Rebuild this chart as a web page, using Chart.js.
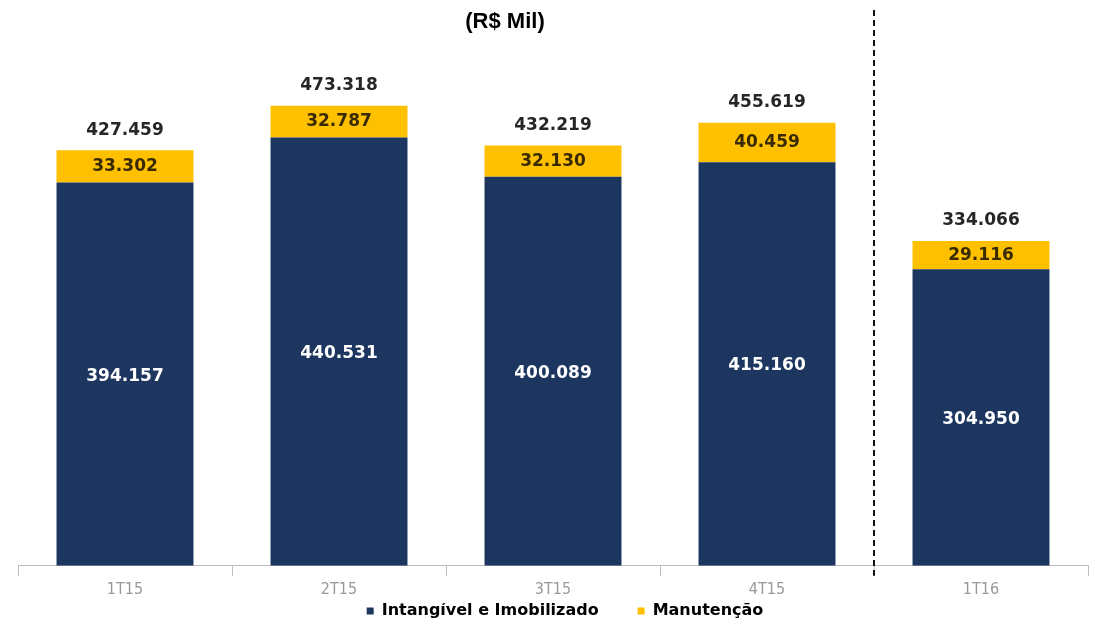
<!DOCTYPE html>
<html>
<head>
<meta charset="utf-8">
<script src="https://cdn.jsdelivr.net/npm/chart.js@4"></script>
<style>
html,body{margin:0;padding:0;background:#fff;}
#wrap{width:1095px;height:625px;position:relative;}
</style>
</head>
<body>
<div id="wrap"><canvas id="c" width="1095" height="625"></canvas></div>
<script>
const categories = ['1T15', '2T15', '3T15', '4T15', '1T16'];
const intangivel = [394.157, 440.531, 400.089, 415.160, 304.950];
const manutencao = [33.302, 32.787, 32.130, 40.459, 29.116];
const totals = [427.459, 473.318, 432.219, 455.619, 334.066];
const seriesNames = ['Intangível e Imobilizado', 'Manutenção'];
const titleText = '(R$ Mil)';

const NAVY = '#1d3660';
const YELLOW = '#ffc000';
const LABEL_FONT = 'bold 17px "DejaVu Sans", sans-serif';

function fmt(v){ return v.toFixed(3); }

const labelPlugin = {
  id: 'labels',
  afterLayout(chart){
    if (chart.legend) { chart.legend.left += 12; chart.legend.right += 12; }
  },
  afterDatasetsDraw(chart){
    const ctx = chart.ctx;
    ctx.save();
    ctx.textAlign = 'center';
    ctx.textBaseline = 'middle';
    const m0 = chart.getDatasetMeta(0);
    const m1 = chart.getDatasetMeta(1);
    ctx.font = LABEL_FONT;
    m0.data.forEach((el, i) => {
      ctx.fillStyle = '#ffffff';
      ctx.fillText(fmt(intangivel[i]), el.x, (el.y + el.base) / 2 + 2);
    });
    m1.data.forEach((el, i) => {
      ctx.fillStyle = '#3a2a00';
      ctx.fillText(fmt(manutencao[i]), el.x, (el.y + el.base) / 2);
      ctx.fillStyle = '#262626';
      ctx.fillText(fmt(totals[i]), el.x, el.y - 20);
    });
    // title
    ctx.font = 'bold 22px "Liberation Sans", Arial, sans-serif';
    ctx.fillStyle = '#000';
    ctx.fillText(titleText, 505, 22);
    // dashed separator between 4T15 and 1T16
    const xs = chart.scales.x;
    const sepX = (xs.getPixelForValue(3) + xs.getPixelForValue(4)) / 2;
    ctx.strokeStyle = '#111';
    ctx.lineWidth = 2;
    ctx.setLineDash([6, 4]);
    ctx.beginPath();
    ctx.moveTo(sepX, 10);
    ctx.lineTo(sepX, chart.chartArea.bottom + 10);
    ctx.stroke();
    ctx.restore();
  }
};

new Chart(document.getElementById('c'), {
  type: 'bar',
  data: {
    labels: categories,
    datasets: [
      { label: seriesNames[0], data: intangivel, backgroundColor: NAVY, categoryPercentage: 0.64, barPercentage: 1 },
      { label: seriesNames[1], data: manutencao, backgroundColor: YELLOW, categoryPercentage: 0.64, barPercentage: 1 }
    ]
  },
  options: {
    responsive: false,
    animation: false,
    layout: { padding: { left: 18, right: 7, top: 0, bottom: -4 } },
    plugins: {
      legend: {
        position: 'bottom',
        labels: {
          boxWidth: 7, boxHeight: 7, padding: 0,
          color: '#1a1a1a',
          font: { size: 16, weight: 'bold', family: '"DejaVu Sans", sans-serif' },
          generateLabels(chart){
            return chart.data.datasets.map((d, i) => ({
              text: d.label + (i === 0 ? '       ' : ''), fillStyle: d.backgroundColor, strokeStyle: d.backgroundColor,
              lineWidth: 0, datasetIndex: i, hidden: false
            }));
          }
        }
      },
      title: { display: false },
      tooltip: { enabled: false }
    },
    scales: {
      x: {
        stacked: true,
        offset: true,
        grid: { drawOnChartArea: false, drawTicks: true, tickLength: 10, color: '#bdbdbd', offset: true },
        border: { color: '#bdbdbd' },
        ticks: { color: '#999999', font: { size: 16, family: '"Liberation Sans Narrow", "DejaVu Sans Condensed", sans-serif' }, padding: 4 }
      },
      y: {
        stacked: true,
        display: false,
        min: 0, max: 582
      }
    }
  },
  plugins: [labelPlugin]
});
</script>
</body>
</html>
